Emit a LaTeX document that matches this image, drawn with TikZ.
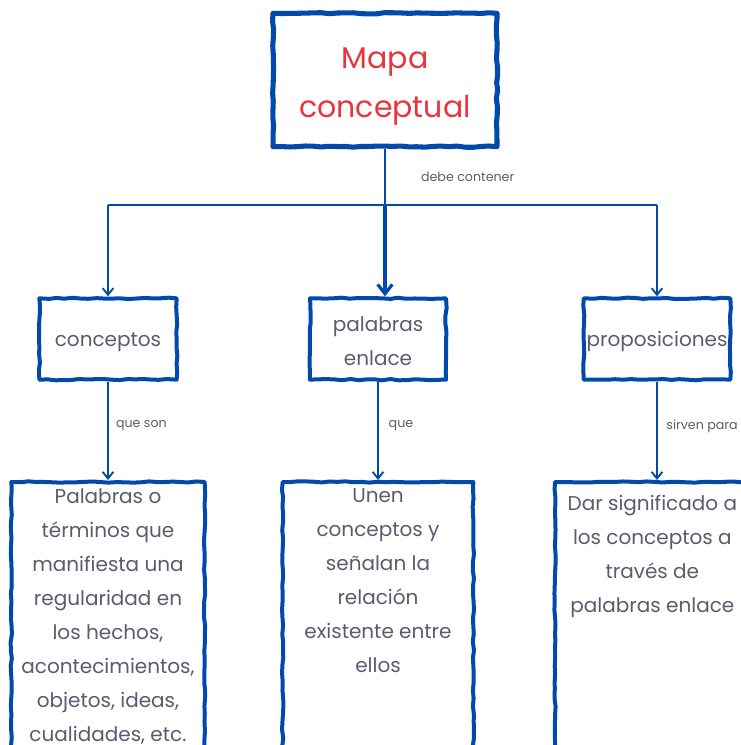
\documentclass[tikz,border=0pt]{standalone}
\usepackage{fontspec}
\setmainfont{Poppins}
\usetikzlibrary{arrows.meta,positioning,decorations.pathmorphing,calc}
\definecolor{mapblue}{RGB}{0,74,173}
\definecolor{mapred}{RGB}{232,52,58}
\definecolor{maptext}{RGB}{88,92,110}
\pgfmathsetseed{7}

\begin{document}
\begin{tikzpicture}[x=0.75pt, y=-0.75pt,
  rough/.style={draw=mapblue, line width=3pt, line join=round, decorate,
    decoration={random steps, segment length=6pt, amplitude=0.5pt}},
  titlebox/.style={rough, line width=3.8pt, minimum width=168pt, minimum height=100pt,
    align=center, text=mapred, font=\fontsize{22.5}{37}\selectfont},
  conceptbox/.style={rough, minimum height=61pt, align=center, inner sep=1pt,
    text=maptext, font=\fontsize{15}{25.5}\selectfont},
  descbox/.style={rough, anchor=north, inner xsep=0pt, inner ysep=5pt,
    text=maptext, font=\fontsize{15}{25.5}\selectfont},
  lbl/.style={font=\fontsize{9.5}{11}\selectfont, text=maptext, anchor=west},
  arr/.style={mapblue, line width=1.4pt, -{Straight Barb[length=5pt, width=8pt]}},
  bigarr/.style={mapblue, line width=2.4pt, -{Straight Barb[length=7pt, width=11pt]}},
]
\useasboundingbox (0,0) rectangle (741,745);
\clip (0,0) rectangle (741,745);

\node[titlebox] (title) at (385,80) {\rule{0pt}{25pt}Mapa\\conceptual};
\node[conceptbox, minimum width=103pt] (conceptos) at (108,339) {\rule{0pt}{15pt}conceptos};
\node[conceptbox, minimum width=102pt] (enlace) at (378,339) {\rule{0pt}{15pt}palabras\\enlace};
\node[conceptbox, minimum width=110pt] (proposiciones) at (657,339) {\rule{0pt}{15pt}proposiciones};

\node[descbox] (terminos) at (108,480) {\begin{minipage}[t][230pt][t]{145pt}\centering
  Palabras o\\términos que\\manifiesta una\\regularidad en\\los hechos,\\acontecimientos,\\objetos, ideas,\\cualidades, etc.\end{minipage}};
\node[descbox] (relacion) at (378,480) {\begin{minipage}[t][230pt][t]{143pt}\centering
  Unen\\conceptos y\\señalan la\\relación\\existente entre\\ellos\end{minipage}};
\node[descbox] (significado) at (657,480) {\begin{minipage}[t][230pt][t]{153pt}\centering
  \vspace*{5pt}\hspace*{-7pt}Dar significado a\\\hspace*{-7pt}los conceptos a\\\hspace*{-7pt}través de\\\hspace*{-7pt}palabras enlace\end{minipage}};

% connectors
\coordinate (split) at ($(title.south)+(0,56)$);
\draw[mapblue, line width=1.4pt] (title.south) -- (split)
  node[lbl, midway, xshift=23pt] {debe contener};
\draw[mapblue, line width=1.4pt] (split -| conceptos.north) -- (split -| proposiciones.north);
\draw[arr] (split -| conceptos.north) -- (conceptos.north);
\draw[bigarr] (split) -- (split |- enlace.north);
\draw[arr] (split -| proposiciones.north) -- (proposiciones.north);

\draw[arr] (conceptos) -- (terminos) node[lbl, pos=0.45, xshift=2pt] {que son};
\draw[arr] (enlace) -- (relacion) node[lbl, pos=0.45, xshift=4pt] {que};
\draw[arr] (proposiciones) -- (significado) node[lbl, pos=0.45, xshift=3pt] {sirven para};
\end{tikzpicture}
\end{document}
